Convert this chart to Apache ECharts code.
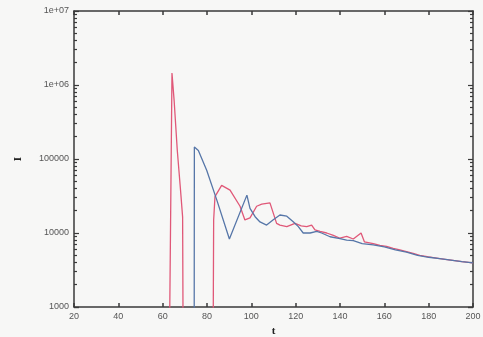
<!DOCTYPE html>
<html>
<head>
<meta charset="utf-8">
<script src="https://cdn.jsdelivr.net/npm/echarts@6/dist/echarts.min.js"></script>
<style>
html,body{margin:0;padding:0;background:#f7f7f6;}
#c{width:483px;height:337px;}
</style>
</head>
<body>
<div id="c"></div>
<script>
// ---- data ----
const redT = [62.9, 64.2, 65.2, 66.6, 68.0, 69.0, 69.3, 82.7, 83.0, 83.6, 86.6, 90.4, 94.9, 97.1, 99.4, 102.4, 104.7, 108.4, 109.2, 111.4, 112.9, 116.0, 119.7, 122.5, 125.0, 127.2, 128.7, 131.0, 134.0, 137.0, 140.0, 143.0, 146.0, 149.5, 151.0, 155.0, 158.0, 161.0, 164.0, 167.0, 170.0, 173.0, 176.0, 180.0, 185.0, 190.0, 195.0, 200.0];
const redV = [100, 1450000, 600000, 130000, 40000, 16500, 100, 100, 15000, 31000, 44000, 38000, 23000, 15000, 16000, 23000, 24500, 25500, 25000, 13500, 12800, 12200, 13500, 12500, 12200, 12800, 11000, 10500, 10000, 9300, 8500, 9000, 8300, 10000, 7600, 7200, 6800, 6600, 6200, 5900, 5600, 5300, 5000, 4750, 4500, 4300, 4100, 3950];
const blueT = [74.2, 74.3, 76.1, 79.9, 84.4, 90.1, 98.0, 99.4, 101.7, 103.9, 106.9, 109.9, 112.9, 116.0, 118.9, 121.2, 123.4, 126.5, 129.5, 131.7, 135.5, 140.0, 143.0, 146.0, 150.0, 155.0, 160.0, 165.0, 170.0, 175.0, 180.0, 185.0, 190.0, 195.0, 200.0];
const blueV = [100, 145000, 130000, 70000, 28000, 8300, 32500, 21500, 16600, 14100, 12800, 15100, 17500, 16900, 14200, 12200, 10000, 10000, 10500, 10000, 8900, 8400, 8000, 7900, 7200, 6900, 6500, 5900, 5500, 5000, 4700, 4500, 4300, 4100, 3950];
const xTicks = [20, 40, 60, 80, 100, 120, 140, 160, 180, 200];
const yTickValues = [1000, 10000, 100000, 1000000, 10000000];
const yTickLabels = ['1000', '10000', '100000', '1e+06', '1e+07'];

const axisColor = '#3a3a3a';
const labelStyle = {fontFamily: 'Liberation Sans', fontSize: 9, color: '#555'};

function pairs(t, v) { return t.map((x, i) => [x, v[i]]); }

const chart = echarts.init(document.getElementById('c'), null, {renderer: 'canvas'});
const baseX = {
  type: 'value', min: 20, max: 200, interval: 20,
  axisLine: {show: true, lineStyle: {color: axisColor, width: 1.5}},
  axisTick: {show: true, inside: true, length: 4, lineStyle: {color: axisColor, width: 1.5}},
  splitLine: {show: false}
};
const baseY = {
  type: 'log', logBase: 10, min: 1000, max: 10000000,
  axisLine: {show: true, lineStyle: {color: axisColor, width: 1.5}},
  axisTick: {show: true, inside: true, length: 5, lineStyle: {color: axisColor, width: 1.2}},
  minorTick: {show: true, splitNumber: 9, length: 3, lineStyle: {color: axisColor, width: 1.2}},
  splitLine: {show: false}
};

chart.setOption({
  animation: false,
  backgroundColor: '#f7f7f6',
  grid: {left: 74, right: 10, top: 11, bottom: 30, containLabel: false, outerBoundsMode: 'none'},
  xAxis: [
    Object.assign({}, baseX, {
      position: 'bottom',
      axisLabel: Object.assign({margin: 5, formatter: v => xTicks.indexOf(v) >= 0 ? String(v) : ''}, labelStyle),
      name: 't', nameLocation: 'middle', nameGap: 11,
      nameTextStyle: {fontFamily: 'Liberation Serif', fontSize: 11, fontWeight: 'bold', color: '#222'}
    }),
    Object.assign({}, baseX, {position: 'top', axisLabel: {show: false}})
  ],
  yAxis: [
    Object.assign({}, baseY, {
      position: 'left',
      axisLabel: Object.assign({margin: 5, formatter: v => {
        const i = yTickValues.findIndex(x => Math.abs(x - v) / x < 1e-6);
        return i >= 0 ? yTickLabels[i] : '';
      }}, labelStyle),
      name: 'I', nameLocation: 'middle', nameGap: 50,
      nameTextStyle: {fontFamily: 'Liberation Serif', fontSize: 11, fontWeight: 'bold', color: '#222'}
    }),
    Object.assign({}, baseY, {position: 'right', axisLabel: {show: false}})
  ],
  series: [
    {
      type: 'line', name: 'red', data: pairs(redT, redV), xAxisIndex: 0, yAxisIndex: 0,
      showSymbol: false, symbol: 'none', clip: true,
      lineStyle: {color: '#e05878', width: 1.3}, itemStyle: {color: '#e05878'}, z: 3
    },
    {
      type: 'line', name: 'blue', data: pairs(blueT, blueV), xAxisIndex: 0, yAxisIndex: 0,
      showSymbol: false, symbol: 'none', clip: true,
      lineStyle: {color: '#5676a8', width: 1.3}, itemStyle: {color: '#5676a8'}, z: 4
    }
  ]
});
</script>
</body>
</html>
